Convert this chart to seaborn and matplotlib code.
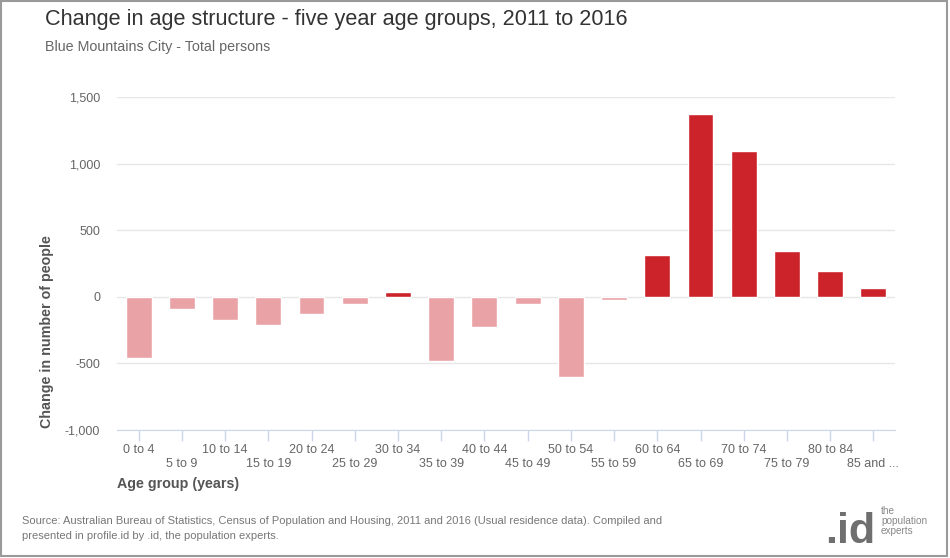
import matplotlib
matplotlib.use("Agg")
import matplotlib.pyplot as plt
import seaborn as sns
import pandas as pd
from matplotlib.patches import Rectangle

# ===============================
# DATA
# ===============================
age_groups = ["0 to 4", "5 to 9", "10 to 14", "15 to 19", "20 to 24", "25 to 29",
              "30 to 34", "35 to 39", "40 to 44", "45 to 49", "50 to 54", "55 to 59",
              "60 to 64", "65 to 69", "70 to 74", "75 to 79", "80 to 84", "85 and ..."]
change = [-460, -95, -177, -214, -130, -52, 37, -483, -229, -55, -605, -25,
          311, 1370, 1096, 344, 192, 67]
y_ticks = [-1000, -500, 0, 500, 1000, 1500]

df = pd.DataFrame({"group": age_groups, "change": change})
df["sign"] = ["up" if v >= 0 else "down" for v in df["change"]]

# ===============================
# STYLE
# ===============================
sns.set_style("white")
plt.rcParams["font.family"] = ["Liberation Sans", "DejaVu Sans"]

fig = plt.figure(figsize=(9.5, 5.58), dpi=100)
ax = fig.add_axes([117 / 950, 1 - 430 / 558, (895 - 117) / 950, (430 - 97) / 558])

sns.barplot(data=df, x="group", y="change", hue="sign", order=age_groups,
            palette={"up": "#cc232b", "down": "#e9a3a7"}, dodge=False,
            width=0.6, legend=False, ax=ax, saturation=1)

ax.set_ylim(-1000, 1500)
ax.set_xlim(-0.5, len(age_groups) - 0.5)
ax.set_yticks(y_ticks)
ax.set_yticklabels([f"{v:,}" for v in y_ticks], color="#666666", fontsize=9)
ax.yaxis.grid(True, color="#e6e6e6", linewidth=1)
ax.set_axisbelow(True)

# staggered x labels: odd ones on a second row
ax.set_xticks(range(len(age_groups)))
ax.set_xticklabels(age_groups, color="#666666", fontsize=9)
ax.tick_params(axis="x", length=8, width=1, color="#ccd6eb", bottom=True)
for i, t in enumerate(ax.xaxis.get_major_ticks()):
    t.set_pad(2 if i % 2 == 0 else 12.5)
ax.tick_params(axis="y", length=0, pad=12)

for s in ["top", "right", "left"]:
    ax.spines[s].set_visible(False)
ax.spines["bottom"].set_color("#ccd6eb")
ax.set_xlabel("")
ax.set_ylabel("")

# ===============================
# TEXTS
# ===============================
fig.text(45 / 950, 1 - 20 / 558, "Change in age structure - five year age groups, 2011 to 2016",
         fontsize=15.6, color="#333333", va="center")
fig.text(45 / 950, 1 - 47 / 558, "Blue Mountains City - Total persons",
         fontsize=10.3, color="#666666", va="center")
fig.text(47 / 950, 1 - 332 / 558, "Change in number of people", rotation=90,
         fontsize=10.3, fontweight="bold", color="#555555", ha="center", va="center")
fig.text(117 / 950, 1 - 484 / 558, "Age group (years)",
         fontsize=10.3, fontweight="bold", color="#555555", va="center")
fig.text(22 / 950, 1 - 521 / 558,
         "Source: Australian Bureau of Statistics, Census of Population and Housing, 2011 and 2016 (Usual residence data). Compiled and",
         fontsize=8, color="#777777", va="center")
fig.text(22 / 950, 1 - 536 / 558, "presented in profile.id by .id, the population experts.",
         fontsize=8, color="#777777", va="center")

# logo
fig.text(825 / 950, 1 - 543 / 558, ".id", fontsize=31, fontweight="bold",
         color="#6f6f6f", va="baseline")
fig.text(881 / 950, 1 - 521 / 558, "the\npopulation\nexperts", fontsize=7.2,
         color="#888888", va="center", linespacing=1.05)

# frame
fig.patches.append(Rectangle((1 / 950, 2 / 558), 946 / 950, 555 / 558,
                             transform=fig.transFigure, fill=False,
                             edgecolor="#9a9a9a", linewidth=1.5))

plt.savefig("out.png", dpi=100)
